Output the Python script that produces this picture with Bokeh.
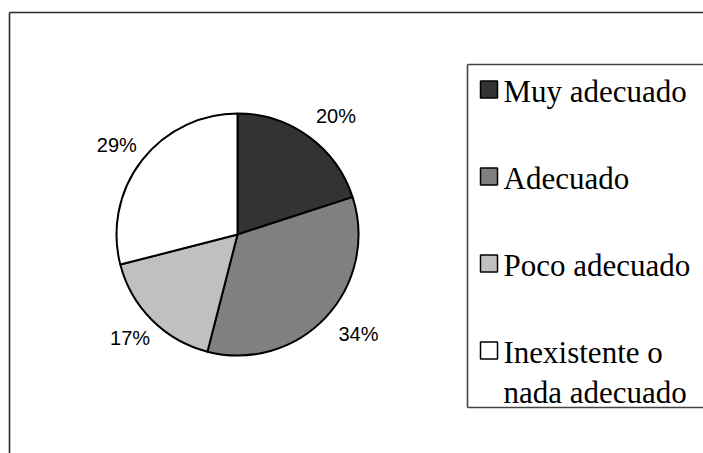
import math
from bokeh.plotting import figure
from bokeh.models import Range1d, ColumnDataSource
from bokeh.core.properties import value
from bokeh.embed import file_html
from bokeh.resources import INLINE

categories = ["Muy adecuado", "Adecuado", "Poco adecuado", "Inexistente o nada adecuado"]
legend_lines = [["Muy adecuado"], ["Adecuado"], ["Poco adecuado"], ["Inexistente o", "nada adecuado"]]
percents = [20, 34, 17, 29]
colors = ["#333333", "#808080", "#c0c0c0", "#ffffff"]

W, H = 703, 453
p = figure(width=W, height=H, output_backend="svg", toolbar_location=None,
           x_range=Range1d(0, W), y_range=Range1d(0, H), min_border=0)
p.axis.visible = False
p.grid.visible = False
p.outline_line_color = None
p.background_fill_color = "white"
p.border_fill_color = "white"

def sx(x):
    return x

def sy(y):
    return H - y

# outer chart border (right/bottom cut off by the window)
p.segment(x0=[sx(9), sx(9)], y0=[sy(12), sy(12)], x1=[sx(W + 50), sx(9)],
          y1=[sy(12), sy(H + 50)], line_color="#2a2a2a", line_width=1.6)

# pie
cx, cy, r = sx(237), sy(234), 121
lab_cx, lab_rx, lab_ry = cx + 5, 159, 146
total = sum(percents)
starts, ends, lx, ly, labels = [], [], [], [], []
acc = 0.0
for v in percents:
    a0 = math.pi / 2 - 2 * math.pi * acc / total
    acc += v
    a1 = math.pi / 2 - 2 * math.pi * acc / total
    starts.append(a1)
    ends.append(a0)
    mid = (a0 + a1) / 2
    lx.append(lab_cx + lab_rx * math.cos(mid))
    ly.append(cy + lab_ry * math.sin(mid))
    labels.append(f"{v}%")

src = ColumnDataSource(dict(x=[cx] * len(percents), y=[cy] * len(percents),
                            start=starts, end=ends, color=colors))
p.wedge(x="x", y="y", radius=r, start_angle="start", end_angle="end",
        fill_color="color", line_color="black", line_width=2, source=src)

p.text(x=lx, y=ly, text=labels, text_font=value("Liberation Sans"),
       text_font_size="20px", text_align="center", text_baseline="middle",
       text_color="black")

# legend box (right side cut off by the window)
bx0, by0, by1 = sx(467), sy(64), sy(407)
p.segment(x0=[bx0, bx0, bx0], y0=[by0, by0, by1], x1=[sx(W + 50), bx0, sx(W + 50)],
          y1=[by0, by1, by1], line_color="#444444", line_width=1.6)

sw_cy = [89, 176, 263, 350]
sw_x, sw_y = [], []
tx, ty, tt = [], [], []
for i, lines in enumerate(legend_lines):
    sw_x.append(sx(488.5))
    sw_y.append(sy(sw_cy[i]))
    for j, line in enumerate(lines):
        tx.append(sx(503))
        ty.append(sy(sw_cy[i] + 2 + 40 * j))
        tt.append(line)

p.rect(x=sw_x, y=sw_y, width=17, height=17, fill_color=colors,
       line_color="black", line_width=1.5)
p.text(x=tx, y=ty, text=tt, text_font=value("Liberation Serif"),
       text_font_size="31px", text_align="left", text_baseline="middle",
       text_color="black")

open("out.html", "w").write(file_html(p, INLINE))
